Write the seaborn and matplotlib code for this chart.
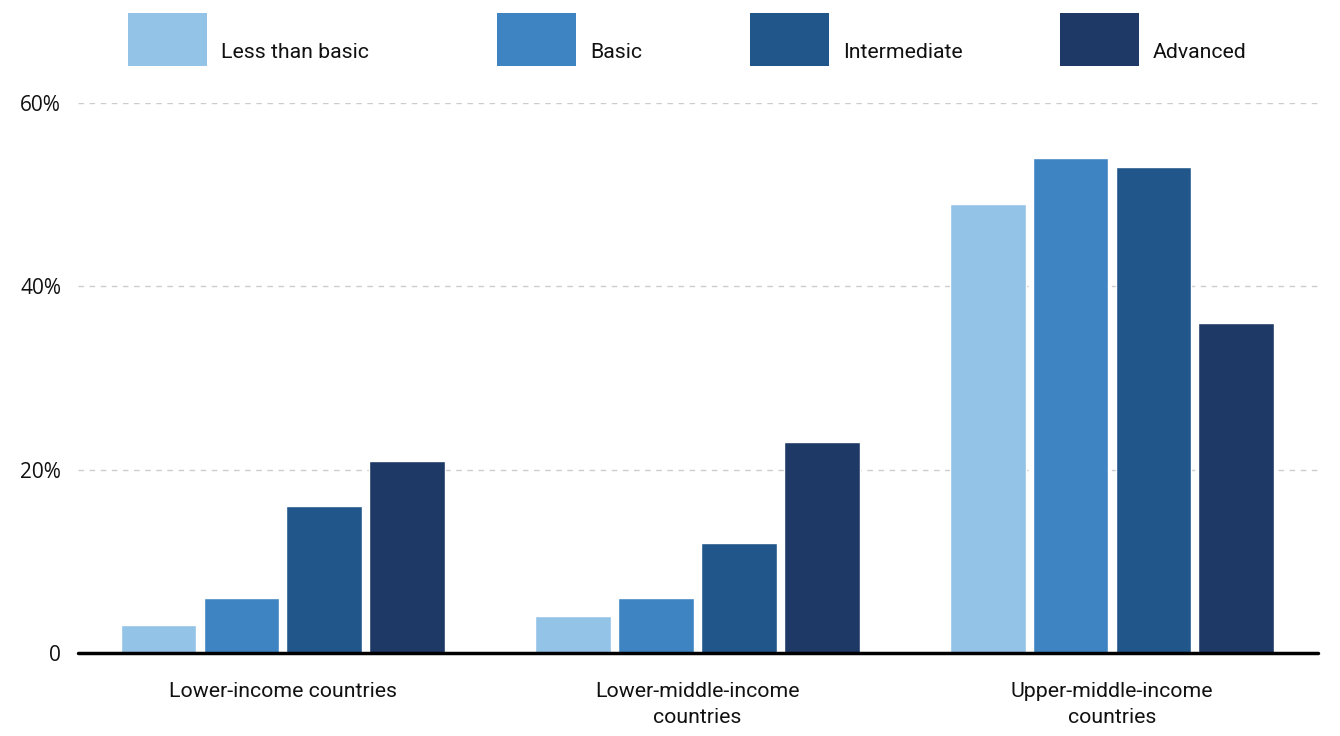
import pandas as pd
import matplotlib.pyplot as plt
import seaborn as sns
from matplotlib.patches import Rectangle

# Datos
grupos = ["Lower-income countries", "Lower-middle-income\ncountries", "Upper-middle-income\ncountries"]
niveles = ["Less than basic", "Basic", "Intermediate", "Advanced"]
menos_basico = [3, 4, 49]
basico = [6, 6, 54]
intermedio = [16, 12, 53]
avanzado = [21, 23, 36]
colores = ["#94c3e8", "#3e84c2", "#21568a", "#1f3967"]

df = pd.DataFrame({
    "grupo": grupos * 4,
    "nivel": [n for n in niveles for _ in grupos],
    "valor": menos_basico + basico + intermedio + avanzado,
})

sns.set_style("white")
plt.rcParams["font.family"] = ["Roboto", "DejaVu Sans"]

fig = plt.figure(figsize=(13.4, 7.36), dpi=100)
ax = fig.add_axes([0.058, 0.1128, 0.9256, 0.7472])

sns.barplot(data=df, x="grupo", y="valor", hue="nivel", order=grupos,
            hue_order=niveles, palette=colores, width=0.8, gap=0.085,
            legend=False, ax=ax, saturation=1)

ax.set_ylim(0, 60)
ax.set_xlim(-0.495, 2.497)
ax.set_yticks([0, 20, 40, 60])
ax.set_yticklabels(["0", "20%", "40%", "60%"], fontfamily=["Open Sans", "DejaVu Sans"],
                   fontsize=15, color="#111111")
ax.set_xticks(range(len(grupos)))
ax.set_xticklabels(grupos, fontsize=15.3, color="#111111", linespacing=1.45)
ax.set_xlabel("")
ax.set_ylabel("")
ax.tick_params(axis="y", length=0, pad=12)
ax.tick_params(axis="x", length=0, pad=21)

for v in [20, 40, 60]:
    ax.axhline(v, color="#cccccc", linestyle=(0, (4, 4)), linewidth=1, zorder=0)
ax.axhline(0, color="black", linewidth=2.5, zorder=5, clip_on=False)
sns.despine(ax=ax, left=True, bottom=True)

# Leyenda manual
pos_x = [128, 497, 750, 1060]
for x, nivel, c in zip(pos_x, niveles, colores):
    fig.add_artist(Rectangle((x / 1340, 1 - 66 / 736), 79 / 1340, 53 / 736,
                             facecolor=c, edgecolor="none", transform=fig.transFigure))
    fig.text((x + 93) / 1340, 1 - 53 / 736, nivel, fontsize=15.3, va="center", ha="left",
             color="#111111")

plt.savefig("out.png", dpi=100)
